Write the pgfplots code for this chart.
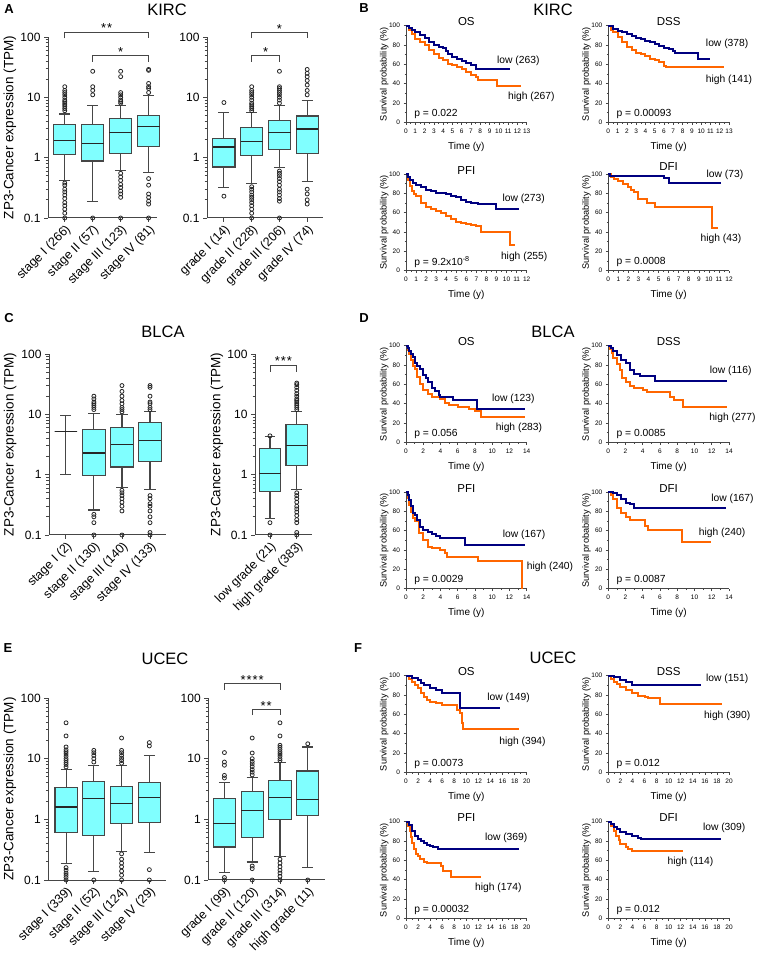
\documentclass[border=0pt]{standalone}
\usepackage{fontspec}
\setmainfont{Liberation Sans}
\usepackage{pgfplots}
\pgfplotsset{compat=1.18}
\definecolor{navyline}{RGB}{0,0,128}
\definecolor{orangeline}{RGB}{255,102,0}
\definecolor{boxfill}{RGB}{128,255,255}
\definecolor{axgray}{RGB}{70,70,70}
\newcommand{\fs}[1]{\fontsize{#1}{#1}\selectfont}

% one box: position, lower whisker, lower quartile, median, upper quartile, upper whisker
\newcommand{\bxbox}[6]{%
  \pgfmathsetmacro\bxL{#1-0.4}\pgfmathsetmacro\bxR{#1+0.4}%
  \pgfmathsetmacro\cxL{#1-0.2}\pgfmathsetmacro\cxR{#1+0.2}%
  \edef\bxcmd{%
    \noexpand\addplot[boxln] coordinates {(#1,#2) (#1,#3)};
    \noexpand\addplot[boxln] coordinates {(#1,#5) (#1,#6)};
    \noexpand\addplot[boxln] coordinates {(\cxL,#2) (\cxR,#2)};
    \noexpand\addplot[boxln] coordinates {(\cxL,#6) (\cxR,#6)};
    \noexpand\addplot[boxln, fill=boxfill] coordinates {(\bxL,#3) (\bxR,#3) (\bxR,#5) (\bxL,#5)} -- cycle;
    \noexpand\addplot[medln] coordinates {(\bxL,#4) (\bxR,#4)};
  }\bxcmd}
\newcommand{\outl}[2]{\addplot[outm] table[row sep=\\, x expr=#1, y index=0]{v\\ #2};}

\tikzset{
  brk/.style={draw=axgray, line width=0.9pt},
  star/.style={anchor=base, font=\fs{13}, yshift=-1pt},
  lab/.style={font=\fs{10.3}, anchor=center},
  pval/.style={font=\fs{10.3}, anchor=west},
}
\pgfplotsset{
  /pgf/number format/assume math mode=true,
  km/.style={
    scale only axis, width=120.7pt, height=96.6pt, anchor=south west,
    axis x line=bottom, axis y line=left,
    axis line style={-, draw=axgray, line width=0.7pt},
    tick align=outside, tick style={draw=axgray, line width=0.6pt},
    major tick length=2.5pt, minor tick length=1.5pt,
    xmin=0, ymin=0, ymax=100,
    ytick={0,20,...,100}, minor ytick={10,30,...,90},
    clip=false,
    tick label style={font=\fs{6.5}},
    xticklabel style={yshift=-0.5pt},
    xlabel={Time (y)}, ylabel={Survival probability (\%)},
    every axis x label/.style={at={(axis description cs:0.5,-0.25)}, anchor=center, font=\fs{10}},
    every axis y label/.style={at={(axis description cs:-0.18,0.5)}, rotate=90, anchor=center, font=\fs{9.2}},
    every axis title/.style={at={(axis description cs:0.5,1.04)}, anchor=center, font=\fs{11.5}},
  },
  km13/.style={km, xmax=13, xtick={0,...,13}, minor xtick={0.5,1.5,...,12.5}},
  km12/.style={km, xmax=12, xtick={0,...,12}, minor xtick={0.5,1.5,...,11.5}},
  km14/.style={km, xmax=14, xtick={0,2,...,14}, minor xtick={1,3,...,13}},
  km20/.style={km, xmax=20, xtick={0,2,...,20}, minor xtick={1,3,...,19}},
  lo/.style={const plot, draw=navyline, line width=2pt, mark=none},
  hi/.style={const plot, draw=orangeline, line width=2pt, mark=none},
  bx/.style={
    scale only axis, anchor=south west, ymin=0.1, ymax=100,
    axis x line=bottom, axis y line=left,
    axis line style={-, draw=axgray, line width=1pt},
    tick align=outside, tick style={draw=axgray, line width=0.9pt},
    major tick length=4pt, minor tick length=2.5pt,
    ytick={0.1,1,10,100}, yticklabels={0.1,1,10,100},
    minor ytick={0.2,0.3,0.4,0.5,0.6,0.7,0.8,0.9,2,3,4,5,6,7,8,9,20,30,40,50,60,70,80,90},
    clip=false,
    tick label style={font=\fs{12}},
    xticklabel style={rotate=45, anchor=north east, inner sep=1pt, font=\fs{12.5}},
    every axis y label/.style={rotate=90, anchor=center, font=\fs{13.5}},
  },
  boxln/.style={draw=axgray, line width=1.1pt, mark=none, solid},
  medln/.style={draw=black!85, line width=1.2pt, mark=none},
  outm/.style={only marks, mark=o, mark size=2pt, mark options={fill=white, draw=black!85, line width=0.8pt}},
}

\begin{document}
\begin{tikzpicture}
\path[use as bounding box] (0pt,0pt) rectangle (756pt,961pt);

% panel letters and titles
\node[font=\fs{13}\bfseries] at (9pt,951.5pt) {A};
\node[font=\fs{13}\bfseries] at (364pt,953pt) {B};
\node[font=\fs{13}\bfseries] at (9pt,643pt) {C};
\node[font=\fs{13}\bfseries] at (364pt,643pt) {D};
\node[font=\fs{13}\bfseries] at (8pt,313pt) {E};
\node[font=\fs{13}\bfseries] at (358pt,313pt) {F};
\node[font=\fs{16.5}] at (167pt,951.5pt) {KIRC};
\node[font=\fs{16.5}] at (553pt,951.5pt) {KIRC};
\node[font=\fs{16.5}] at (163pt,629pt) {BLCA};
\node[font=\fs{16.5}] at (553pt,629pt) {BLCA};
\node[font=\fs{16.5}] at (165pt,302.5pt) {UCEC};
\node[font=\fs{16.5}] at (553pt,303pt) {UCEC};

% ---------------- A: KIRC stage
\begin{axis}[bx, ymode=log, at={(48pt,743pt)}, width=109pt, height=181pt, xmin=-0.6, xmax=3.3,
  xtick={0,1,2,3}, xticklabels={stage I (266), stage II (57), stage III (123), stage IV (81)},
  ylabel={ZP3-Cancer expression (TPM)}, ylabel style={at={(axis description cs:-0.35,0.5)}}]
\bxbox{0}{0.42}{1.12}{1.92}{3.57}{5.3}
\outl{0}{6\\ 6.5\\ 7\\ 7.5\\ 8\\ 8.5\\ 9\\ 10\\ 11\\ 12\\ 13\\ 15\\ 0.38\\ 0.35\\ 0.3\\ 0.27\\ 0.24\\ 0.21\\ 0.18\\ 0.16\\ 0.14\\ 0.12\\ 0.1\\}
\bxbox{1}{0.19}{0.88}{1.74}{3.55}{7.2}
\outl{1}{11\\ 13\\ 15\\ 27\\ 0.1\\}
\bxbox{2}{0.62}{1.19}{2.64}{4.5}{7.2}
\outl{2}{8\\ 8.5\\ 9\\ 10\\ 11\\ 12\\ 22\\ 27\\ 0.55\\ 0.48\\ 0.42\\ 0.36\\ 0.32\\ 0.28\\ 0.25\\ 0.22\\ 0.1\\}
\bxbox{3}{0.57}{1.53}{3.26}{5.07}{10.8}
\outl{3}{12\\ 14\\ 15\\ 17\\ 28\\ 29\\ 0.45\\ 0.35\\ 0.25\\ 0.22\\ 0.19\\ 0.17\\ 0.1\\}
\draw[brk] (axis cs:0,95) -- (axis cs:0,121) -- (axis cs:3,121) -- (axis cs:3,95);
\node[star] at (axis cs:1.5,121) {*\kern1pt*};
\draw[brk] (axis cs:1,39) -- (axis cs:1,50) -- (axis cs:3,50) -- (axis cs:3,39);
\node[star] at (axis cs:2,50) {*};
\end{axis}

% ---------------- A: KIRC grade
\begin{axis}[bx, ymode=log, at={(207pt,743pt)}, width=116pt, height=181pt, xmin=-0.61, xmax=3.57,
  xtick={0,1,2,3}, xticklabels={grade I (14), grade II (228), grade III (206), grade IV (74)}]
\bxbox{0}{0.32}{0.7}{1.5}{2.1}{5.6}
\outl{0}{8.2\\ 0.23\\}
\bxbox{1}{0.37}{1.07}{1.88}{3.19}{5.6}
\outl{1}{6\\ 6.5\\ 7\\ 7.5\\ 8\\ 9\\ 10\\ 11\\ 12\\ 13\\ 15\\ 0.33\\ 0.3\\ 0.27\\ 0.24\\ 0.22\\ 0.2\\ 0.18\\ 0.16\\ 0.14\\ 0.12\\ 0.1\\}
\bxbox{2}{0.68}{1.37}{2.64}{4.2}{7.2}
\outl{2}{8\\ 9\\ 10\\ 11\\ 12\\ 13\\ 14\\ 15\\ 27\\ 0.6\\ 0.55\\ 0.5\\ 0.45\\ 0.4\\ 0.35\\ 0.3\\ 0.27\\ 0.24\\ 0.21\\ 0.19\\ 0.1\\}
\bxbox{3}{0.4}{1.16}{2.99}{4.9}{9}
\outl{3}{11\\ 13\\ 16\\ 19\\ 22\\ 25\\ 29\\ 0.3\\ 0.25\\ 0.2\\ 0.17\\}
\draw[brk] (axis cs:1,95) -- (axis cs:1,118) -- (axis cs:3,118) -- (axis cs:3,95);
\node[star] at (axis cs:2,118) {*};
\draw[brk] (axis cs:1,39) -- (axis cs:1,50) -- (axis cs:2,50) -- (axis cs:2,39);
\node[star] at (axis cs:1.5,50) {*};
\end{axis}

% ---------------- C: BLCA stage
\begin{axis}[bx, ymode=log, at={(49pt,426pt)}, width=117pt, height=181pt, xmin=-0.6, xmax=3.57,
  xtick={0,1,2,3}, xticklabels={stage I (2), stage II (130), stage III (140), stage IV (133)},
  ylabel={ZP3-Cancer expression (TPM)}, ylabel style={at={(axis description cs:-0.333,0.5)}}]
\bxbox{0}{1.0}{5.2}{5.2}{5.2}{9.5}
\bxbox{1}{0.26}{0.97}{2.29}{5.7}{10.5}
\outl{1}{12\\ 13\\ 14\\ 15\\ 16\\ 18\\ 20\\ 0.22\\ 0.2\\ 0.16\\ 0.1\\}
\bxbox{2}{0.62}{1.34}{3.14}{6.1}{10}
\outl{2}{11\\ 12\\ 13\\ 15\\ 17\\ 20\\ 24\\ 30\\ 0.55\\ 0.5\\ 0.45\\ 0.4\\ 0.35\\ 0.3\\ 0.25\\ 0.1\\}
\bxbox{3}{0.56}{1.66}{3.66}{7.2}{11}
\outl{3}{12\\ 13\\ 15\\ 16\\ 20\\ 28\\ 30\\ 0.45\\ 0.4\\ 0.33\\ 0.3\\ 0.25\\ 0.2\\ 0.16\\ 0.11\\ 0.1\\}
\end{axis}

% ---------------- C: BLCA grade
\begin{axis}[bx, ymode=log, at={(255pt,426pt)}, width=57pt, height=181pt, xmin=-0.56, xmax=1.57,
  xtick={0,1}, xticklabels={low grade (21), high grade (383)},
  ylabel={ZP3-Cancer expression (TPM)}, ylabel style={at={(axis description cs:-0.667,0.5)}}]
\bxbox{0}{0.19}{0.53}{1.03}{2.7}{4.3}
\outl{0}{4.4\\ 0.16\\ 0.1\\}
\bxbox{1}{0.56}{1.41}{3.0}{6.7}{11}
\outl{1}{12\\ 13\\ 14\\ 15\\ 16\\ 17\\ 18\\ 20\\ 22\\ 25\\ 28\\ 31\\ 33\\ 0.5\\ 0.45\\ 0.4\\ 0.35\\ 0.3\\ 0.27\\ 0.24\\ 0.21\\ 0.18\\ 0.16\\ 0.11\\ 0.1\\}
\draw[brk] (axis cs:0,50.8) -- (axis cs:0,65.8) -- (axis cs:1,65.8) -- (axis cs:1,50.8);
\node[star] at (axis cs:0.5,65.8) {*\kern1pt*\kern1pt*};
\end{axis}

% ---------------- E: UCEC stage
\begin{axis}[bx, ymode=log, at={(48.3pt,81pt)}, width=117.7pt, height=182pt, xmin=-0.64, xmax=3.6,
  xtick={0,1,2,3}, xticklabels={stage I (339), stage II (52), stage III (124), stage IV (29)},
  ylabel={ZP3-Cancer expression (TPM)}, ylabel style={at={(axis description cs:-0.327,0.5)}}]
\bxbox{0}{0.186}{0.6}{1.6}{3.33}{6.6}
\outl{0}{39\\ 23.7\\ 15.6\\ 14\\ 13\\ 12\\ 11\\ 10\\ 9.3\\ 8.6\\ 8\\ 7.3\\ 0.16\\ 0.145\\ 0.13\\ 0.12\\ 0.11\\ 0.1\\}
\bxbox{1}{0.14}{0.545}{2.19}{4.23}{7.8}
\outl{1}{13.7\\ 12.5\\ 11.3\\ 10\\ 8.8\\ 0.1\\}
\bxbox{2}{0.3}{0.85}{1.81}{3.5}{7.6}
\outl{2}{21.9\\ 13.7\\ 12.5\\ 11.3\\ 10.2\\ 9.3\\ 8.4\\ 0.27\\ 0.22\\ 0.19\\ 0.165\\ 0.14\\ 0.12\\ 0.1\\}
\bxbox{3}{0.28}{0.88}{2.28}{4.02}{11.1}
\outl{3}{18.4\\ 16.2\\ 0.148\\ 0.1\\}
\end{axis}

% ---------------- E: UCEC grade
\begin{axis}[bx, ymode=log, at={(208.3pt,81pt)}, width=116.7pt, height=182pt, xmin=-0.58, xmax=3.62,
  xtick={0,1,2,3}, xticklabels={grade I (99), grade II (120), grade III (314), high grade (11)}]
\bxbox{0}{0.132}{0.35}{0.85}{2.19}{4.1}
\outl{0}{12.6\\ 8.8\\ 7.8\\ 5.3\\ 4.8\\ 0.11\\ 0.1\\}
\bxbox{1}{0.198}{0.51}{1.41}{2.9}{4.86}
\outl{1}{21.9\\ 12.4\\ 10\\ 9\\ 8.2\\ 7.4\\ 6.6\\ 6\\ 5.4\\ 0.17\\ 0.154\\ 0.1\\}
\bxbox{2}{0.245}{1.0}{2.28}{4.4}{8.6}
\outl{2}{39\\ 23.7\\ 16.6\\ 15.4\\ 14.2\\ 13\\ 12\\ 11\\ 10\\ 9.3\\ 0.22\\ 0.19\\ 0.165\\ 0.145\\ 0.13\\ 0.115\\ 0.1\\}
\bxbox{3}{0.158}{1.16}{2.14}{6.26}{15.6}
\outl{3}{17.6\\ 0.1\\}
\draw[brk] (axis cs:0,138) -- (axis cs:0,174) -- (axis cs:2,174) -- (axis cs:2,138);
\node[star] at (axis cs:1,174) {*\kern1pt*\kern1pt*\kern1pt*};
\draw[brk] (axis cs:1,52.2) -- (axis cs:1,65.6) -- (axis cs:2,65.6) -- (axis cs:2,52.2);
\node[star] at (axis cs:1.5,65.6) {*\kern1pt*};
\end{axis}

% ================= B: KIRC survival
\begin{axis}[km13, at={(406pt,838.7pt)}, title={OS}]
\addplot[hi] coordinates {(0,100) (0.3,96) (0.6,91) (1,86) (1.5,83) (2,80) (2.5,75) (3,71) (3.5,67) (4,64) (4.5,60) (5,59) (5.5,57) (6,55) (6.5,52) (7,49) (7.5,47) (7.8,44) (9.8,37.5) (12.4,37.5)};
\addplot[lo] coordinates {(0,100) (0.3,98) (0.6,96) (1,93) (1.5,90) (2,87) (2.5,83.5) (3,80) (3.5,78) (4,77) (4.3,74) (4.5,71) (5,68) (5.5,65.5) (6,63) (6.5,61) (7,59) (7.5,55) (11.2,55)};
\node[lab] at (axis cs:12.1,63.4) {low (263)};
\node[lab] at (axis cs:13.5,26.5) {high (267)};
\node[pval] at (axis description cs:0.04,0.09) {p = 0.022};
\end{axis}

\begin{axis}[km13, at={(608.3pt,838.7pt)}, title={DSS}]
\addplot[hi] coordinates {(0,100) (0.3,96) (0.5,93) (1,88.6) (1.5,83) (2,78) (2.5,75) (3,72) (3.5,70.5) (4,68.6) (4.5,66) (5,64.5) (5.5,62) (6,58.6) (6.2,57.5) (12.5,57.5)};
\addplot[lo] coordinates {(0,100) (0.5,97) (1,94.5) (1.5,93) (2,91) (2.5,89) (3,87.5) (3.5,86) (4,84.5) (4.5,83) (5,80.7) (5.5,78.5) (6,77) (6.5,75.5) (7,74) (7.2,72) (9.7,65.5) (11,65.5)};
\node[lab] at (axis cs:12.8,80.7) {low (378)};
\node[lab] at (axis cs:13,43.8) {high (141)};
\node[pval] at (axis description cs:0.04,0.09) {p = 0.00093};
\end{axis}

\begin{axis}[km12, at={(406pt,690.3pt)}, title={PFI}]
\addplot[hi] coordinates {(0,100) (0.2,94) (0.4,88) (0.6,83) (0.8,79) (1,77) (1.5,70) (2,65.5) (2.5,64) (3,61.7) (3.5,59.5) (4,56.5) (4.5,53.5) (5,50) (5.5,49) (6,48) (6.5,47) (7,46) (7.5,40) (10.3,26.5) (10.8,26.5)};
\addplot[lo] coordinates {(0,100) (0.2,97) (0.4,94) (0.7,91) (1,89) (1.5,86.5) (2,84) (2.5,82) (3,80.5) (3.5,80) (4,79) (4.5,77.5) (5,76) (5.5,73) (6,71) (6.5,70.5) (7.2,69.5) (8.9,63.5) (11.2,63.5)};
\node[lab] at (axis cs:11.7,74) {low (273)};
\node[lab] at (axis cs:11.75,14.5) {high (255)};
\node[pval] at (axis description cs:0.04,0.09) {p = 9.2x10\textsuperscript{-8}};
\end{axis}

\begin{axis}[km12, at={(608.3pt,690.3pt)}, title={DFI}, title style={at={(axis description cs:0.5,1.075)}}]
\addplot[hi] coordinates {(0,100) (0.3,97.5) (0.6,95) (1,93) (1.5,90) (2,87) (2.3,84) (2.6,81) (3,74) (3.8,70) (4.6,66) (10.3,44) (10.9,44)};
\addplot[lo] coordinates {(0,100) (0.2,98.5) (5.5,95.5) (6,90.3) (11.2,90.3)};
\node[lab] at (axis cs:11.6,99) {low (73)};
\node[lab] at (axis cs:11.2,32.8) {high (43)};
\node[pval] at (axis description cs:0.04,0.09) {p = 0.0008};
\end{axis}

% ================= D: BLCA survival
\begin{axis}[km14, at={(406pt,518.7pt)}, title={OS}]
\addplot[hi] coordinates {(0,100) (0.2,96) (0.4,91) (0.6,85) (0.8,79) (1,76) (1.3,68) (1.6,60) (2,54) (2.5,50) (3,46.5) (4,44.5) (4.5,41) (5,38.6) (6,37) (7.3,34.5) (8,32) (8.7,26.5) (13.8,26.5)};
\addplot[lo] coordinates {(0,100) (0.2,98) (0.4,95) (0.6,91) (0.8,88) (1,82) (1.3,79) (1.6,76) (2,70) (2.3,67) (2.6,62) (3,56) (3.4,53) (3.8,49) (4,46.5) (5.5,43.5) (8.2,34.5) (13.8,34.5)};
\node[lab] at (axis cs:12.45,44.8) {low (123)};
\node[lab] at (axis cs:13.1,14.5) {high (283)};
\node[pval] at (axis description cs:0.04,0.09) {p = 0.056};
\end{axis}

\begin{axis}[km14, at={(608.3pt,518.7pt)}, title={DSS}]
\addplot[hi] coordinates {(0,100) (0.2,97) (0.4,92) (0.6,87) (1,80.7) (1.3,75) (1.6,67) (2,62.8) (2.5,58.6) (3,56) (4,54) (4.5,52) (7.2,47) (7.6,43.8) (8.7,36.9) (13.8,36.9)};
\addplot[lo] coordinates {(0,100) (0.3,98) (0.6,95) (1,90) (1.5,85) (2,81.7) (2.5,75) (3,71) (3.7,68.6) (5.4,63.4) (13.8,63.4)};
\node[lab] at (axis cs:14.2,74) {low (116)};
\node[lab] at (axis cs:14.4,24.8) {high (277)};
\node[pval] at (axis description cs:0.04,0.09) {p = 0.0085};
\end{axis}

\begin{axis}[km14, at={(406pt,372.3pt)}, title={PFI}]
\addplot[hi] coordinates {(0,100) (0.2,94) (0.4,87) (0.6,79) (0.8,73) (1,69.6) (1.5,57.5) (2,50.5) (2.5,43.6) (3,42) (4,40) (4.5,36.6) (4.7,33.3) (8.4,29) (13.5,0)};
\addplot[lo] coordinates {(0,100) (0.2,97) (0.4,92) (0.6,86) (0.8,78) (1.1,76) (1.3,71) (1.6,64) (2,61) (2.5,59) (3,57) (3.5,55) (4,52) (6.8,45.5) (13.8,45.5)};
\node[lab] at (axis cs:13.7,55.7) {low (167)};
\node[lab] at (axis cs:16.7,22.8) {high (240)};
\node[pval] at (axis description cs:0.04,0.09) {p = 0.0029};
\end{axis}

\begin{axis}[km14, at={(608.3pt,372.3pt)}, title={DFI}]
\addplot[hi] coordinates {(0,100) (0.3,97) (0.6,93) (1,84) (1.5,78) (2,74.7) (2.5,71) (4.3,65) (4.6,61) (8.5,48.8) (11.9,48.8)};
\addplot[lo] coordinates {(0,100) (0.5,99) (1,97) (1.5,93) (2,89) (2.5,87.5) (3,83.4) (13.6,83.4)};
\node[lab] at (axis cs:14.4,92.7) {low (167)};
\node[lab] at (axis cs:13.2,57.4) {high (240)};
\node[pval] at (axis description cs:0.04,0.09) {p = 0.0087};
\end{axis}

% ================= F: UCEC survival
\begin{axis}[km20, at={(406pt,188.7pt)}, title={OS}]
\addplot[hi] coordinates {(0,100) (0.5,97) (1,93.8) (1.5,90) (2,87) (2.5,82) (3,78) (3.5,75) (4,73) (5,71.4) (6,69.7) (8.5,64.5) (9,61) (9.3,50.7) (9.5,44.8) (18.8,44.8)};
\addplot[lo] coordinates {(0,100) (1,98) (2,95.5) (2.5,92) (3,90) (4,87.6) (5,85) (6,81.7) (8.9,67) (15.5,67)};
\node[lab] at (axis cs:17,77.6) {low (149)};
\node[lab] at (axis cs:19.3,31.7) {high (394)};
\node[pval] at (axis description cs:0.04,0.09) {p = 0.0073};
\end{axis}

\begin{axis}[km20, at={(608.3pt,188.7pt)}, title={DSS}]
\addplot[hi] coordinates {(0,100) (0.5,97) (1,93.8) (1.5,91) (2,88.6) (3,85) (4,81.7) (5,79.3) (6,77.6) (6.6,76.5) (8.6,70.3) (18.8,70.3)};
\addplot[lo] coordinates {(0,100) (1,99) (2,95.5) (3,93) (4,90) (15.4,90)};
\node[lab] at (axis cs:19.7,96.5) {low (151)};
\node[lab] at (axis cs:19.7,58.6) {high (390)};
\node[pval] at (axis description cs:0.04,0.09) {p = 0.012};
\end{axis}

\begin{axis}[km20, at={(406pt,42.7pt)}, title={PFI}]
\addplot[hi] coordinates {(0,100) (0.3,96) (0.6,90) (0.8,84) (1,78) (1.3,72) (1.6,67) (2,64) (2.4,61) (3,58) (3.4,57.5) (5.8,53.8) (6.2,48.6) (7.5,42.4) (12.5,42.4)};
\addplot[lo] coordinates {(0,100) (0.5,97) (1,90) (1.5,85) (2,82) (2.5,80) (3,77.5) (3.5,76) (4,75) (4.5,74) (5.3,72) (18.7,72)};
\node[lab] at (axis cs:16.6,83.3) {low (369)};
\node[lab] at (axis cs:15.3,31.3) {high (174)};
\node[pval] at (axis description cs:0.04,0.09) {p = 0.00032};
\end{axis}

\begin{axis}[km20, at={(608.3pt,42.7pt)}, title={DFI}]
\addplot[hi] coordinates {(0,100) (0.5,96) (1,90) (1.3,85) (1.7,81) (2,77) (3,74) (3.3,72) (4,69.8) (12.4,69.8)};
\addplot[lo] coordinates {(0,100) (0.5,98) (1,95) (1.5,92) (2,89.5) (3,87) (4,85) (5,83.3) (5.4,82.6) (18.7,82.6)};
\node[lab] at (axis cs:19.2,93.7) {low (309)};
\node[lab] at (axis cs:13.6,58.3) {high (114)};
\node[pval] at (axis description cs:0.04,0.09) {p = 0.012};
\end{axis}
\end{tikzpicture}
\end{document}
